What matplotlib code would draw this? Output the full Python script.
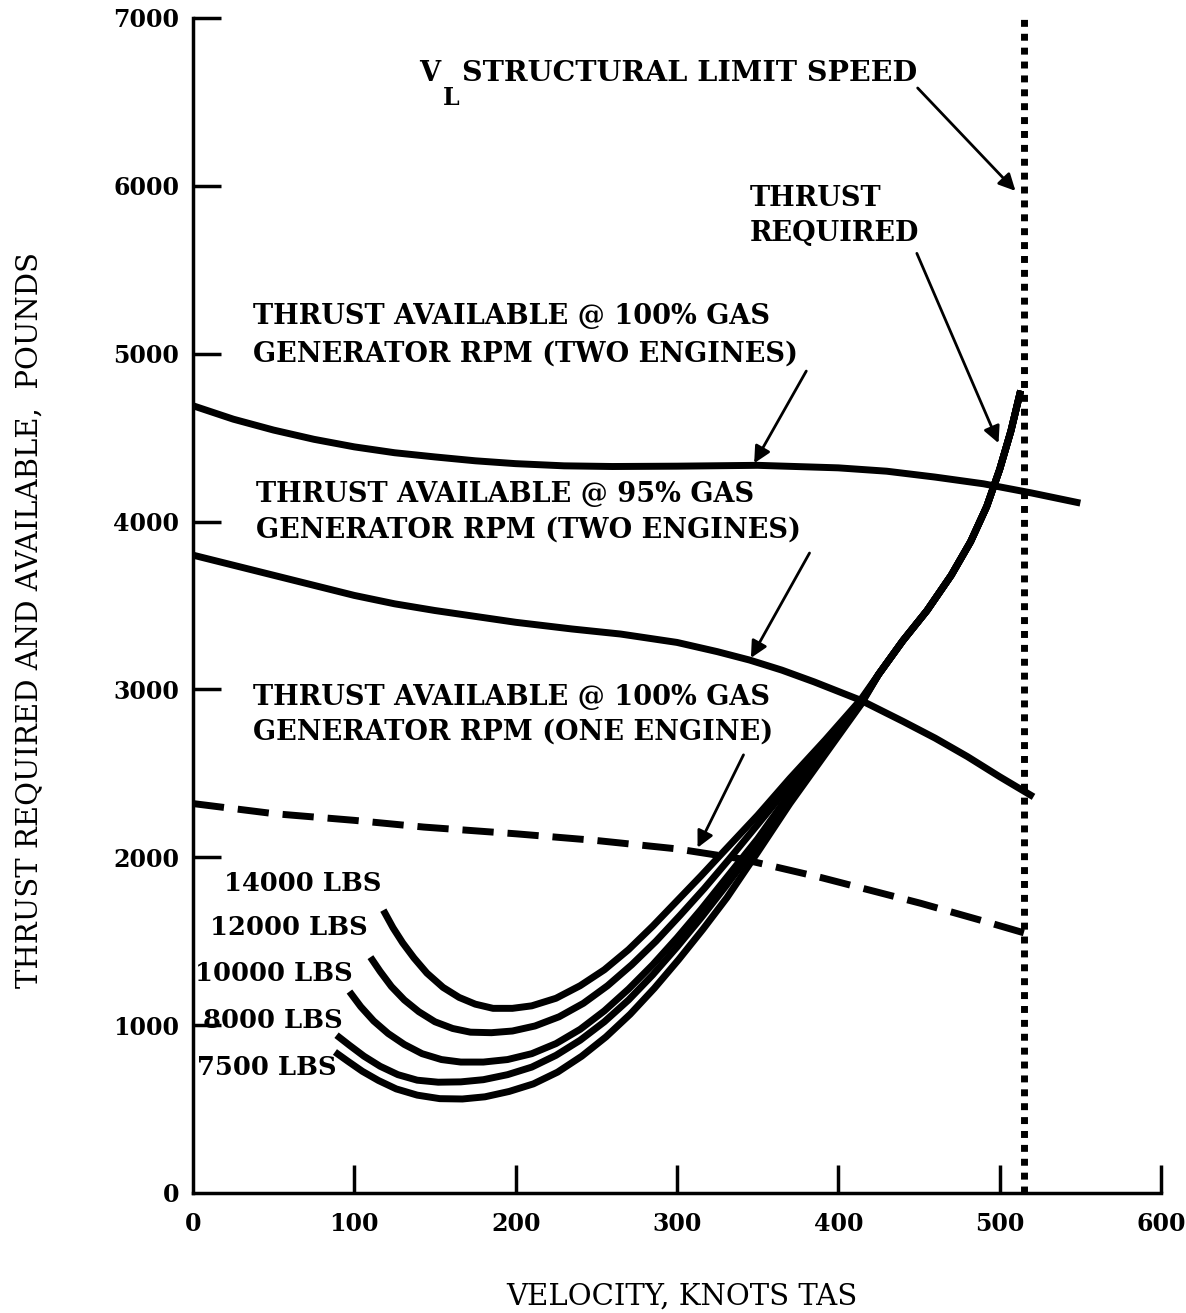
import numpy as np
import matplotlib
matplotlib.use("Agg")
import matplotlib.pyplot as plt

# Données (vitesse en noeuds TAS, poussée en livres)
v_100_two = [0, 25, 50, 75, 100, 125, 150, 175, 200, 230, 260, 300, 350, 400, 430, 460, 490, 520, 550]
t_100_two = [4690, 4610, 4545, 4490, 4445, 4410, 4385, 4362, 4345, 4332, 4328, 4330, 4335, 4320, 4300,
             4265, 4225, 4170, 4110]

v_95_two = [0, 25, 50, 75, 100, 125, 150, 175, 200, 235, 265, 300, 325, 345, 365, 385, 414, 440, 460,
            480, 500, 521]
t_95_two = [3800, 3740, 3680, 3620, 3560, 3510, 3470, 3435, 3400, 3360, 3330, 3280, 3225, 3175, 3115,
            3045, 2935, 2810, 2710, 2600, 2480, 2360]

v_100_one = [0, 50, 100, 143, 200, 250, 300, 340, 389, 451, 490, 515]
t_100_one = [2320, 2260, 2220, 2180, 2140, 2100, 2050, 1990, 1880, 1726, 1620, 1550]

# tronc commun des courbes de poussée requise (haute vitesse)
v_trunk = [425, 440, 455, 470, 482, 492, 500, 507, 513]
t_trunk = [3090, 3290, 3470, 3680, 3880, 4090, 4310, 4540, 4780]

weights = ["14000 LBS", "12000 LBS", "10000 LBS", "8000 LBS", "7500 LBS"]
v_req = [
    [118, 124, 130, 137, 145, 155, 165, 175, 186, 198, 210, 225, 240, 255, 270, 285, 300, 315, 330,
     350, 370, 392, 414],
    [110, 116, 123, 131, 140, 150, 161, 172, 185, 198, 212, 227, 242, 257, 272, 287, 302, 317, 332,
     350, 370, 392, 414],
    [97, 104, 112, 121, 131, 142, 154, 166, 180, 195, 210, 225, 240, 255, 270, 285, 300, 315, 330,
     350, 370, 392, 414],
    [89, 97, 106, 116, 127, 139, 152, 166, 180, 195, 210, 225, 240, 255, 270, 285, 300, 315, 330,
     350, 370, 392, 414],
    [88, 96, 105, 115, 126, 139, 153, 167, 181, 196, 211, 226, 241, 256, 271, 286, 301, 316, 331,
     350, 370, 392, 414],
]
t_req = [
    [1685, 1580, 1490, 1400, 1310, 1225, 1165, 1125, 1100, 1100, 1115, 1160, 1235, 1330, 1450, 1590,
     1740, 1890, 2045, 2250, 2470, 2700, 2940],
    [1405, 1320, 1230, 1150, 1080, 1020, 980, 958, 955, 965, 995, 1050, 1130, 1235, 1360, 1500, 1655,
     1815, 1985, 2195, 2430, 2680, 2930],
    [1200, 1110, 1025, 950, 885, 830, 795, 780, 780, 795, 830, 890, 975, 1085, 1215, 1360, 1520, 1690,
     1870, 2110, 2380, 2650, 2920],
    [940, 880, 815, 755, 705, 672, 660, 662, 675, 705, 750, 820, 910, 1020, 1150, 1300, 1465, 1640,
     1825, 2080, 2350, 2630, 2915],
    [840, 785, 725, 670, 620, 583, 562, 560, 573, 605, 650, 720, 815, 930, 1065, 1220, 1390, 1570,
     1760, 2030, 2320, 2615, 2910],
]
label_pos = [(117, 1845), (108, 1583), (99, 1310), (93, 1030), (89, 750)]

v_limit = 515

fig = plt.figure(figsize=(11.86, 13.13), dpi=100)
ax = fig.add_axes([0.1627, 0.0914, 0.8162, 0.8949])

font = {"family": "DejaVu Serif", "weight": "bold"}

ax.plot(v_100_two, t_100_two, color="black", lw=5, solid_capstyle="butt", solid_joinstyle="round")
ax.plot(v_95_two, t_95_two, color="black", lw=5, solid_capstyle="butt", solid_joinstyle="round")
ax.plot(v_100_one, t_100_one, color="black", lw=5, ls=(0, (4.5, 2)))

for vs, ts in zip(v_req, t_req):
    ax.plot(vs + v_trunk, ts + t_trunk, color="black", lw=5,
            solid_capstyle="butt", solid_joinstyle="round")

for lab, (x, y) in zip(weights, label_pos):
    ax.text(x, y, lab, ha="right", va="center", fontsize=18.5, **font)

# limite structurale
ax.plot([v_limit, v_limit], [0, 7000], color="black", lw=5, ls=(0, (1, 1)), clip_on=False)

# textes et flèches
arrow = dict(arrowstyle="-|>", color="black", lw=2, mutation_scale=25)
fs = 19.5
ax.text(147, 6667, "V", ha="center", va="center", fontsize=fs, **font)
ax.text(160, 6524, "L", ha="center", va="center", fontsize=17, **font)
ax.text(167, 6667, "STRUCTURAL LIMIT SPEED", ha="left", va="center", fontsize=20.5, **font)
ax.annotate("", xy=(511, 5958), xytext=(448, 6595), arrowprops=arrow)

ax.text(345, 5923, "THRUST", ha="left", va="center", fontsize=fs, **font)
ax.text(345, 5714, "REQUIRED", ha="left", va="center", fontsize=fs, **font)
ax.annotate("", xy=(500, 4452), xytext=(448, 5613), arrowprops=arrow)

ax.text(37, 5220, "THRUST AVAILABLE @ 100% GAS", ha="left", va="center", fontsize=fs, **font)
ax.text(37, 5000, "GENERATOR RPM (TWO ENGINES)", ha="left", va="center", fontsize=fs, **font)
ax.annotate("", xy=(347, 4333), xytext=(381, 4911), arrowprops=arrow)

ax.text(39, 4161, "THRUST AVAILABLE @ 95% GAS", ha="left", va="center", fontsize=fs, **font)
ax.text(39, 3952, "GENERATOR RPM (TWO ENGINES)", ha="left", va="center", fontsize=fs, **font)
ax.annotate("", xy=(345, 3173), xytext=(383, 3827), arrowprops=arrow)

ax.text(37, 2952, "THRUST AVAILABLE @ 100% GAS", ha="left", va="center", fontsize=fs, **font)
ax.text(37, 2744, "GENERATOR RPM (ONE ENGINE)", ha="left", va="center", fontsize=fs, **font)
ax.annotate("", xy=(312, 2042), xytext=(342, 2625), arrowprops=arrow)

# axes
ax.set_xlim(0, 600)
ax.set_ylim(0, 7000)
ax.set_xticks([0, 100, 200, 300, 400, 500, 600])
ax.set_yticks([0, 1000, 2000, 3000, 4000, 5000, 6000, 7000])
for s in ["top", "right"]:
    ax.spines[s].set_visible(False)
for s in ["left", "bottom"]:
    ax.spines[s].set_linewidth(2.5)
ax.tick_params(direction="in", length=20, width=2.5, labelsize=17, pad=10)
ax.tick_params(axis="x", pad=14)
ax.xaxis.get_major_ticks()[0].tick1line.set_visible(False)
ax.yaxis.get_major_ticks()[0].tick1line.set_visible(False)
for lab in ax.get_xticklabels() + ax.get_yticklabels():
    lab.set_family("DejaVu Serif")
    lab.set_weight("bold")

ax.set_xlabel("VELOCITY, KNOTS TAS", fontsize=21, family="DejaVu Serif")
ax.xaxis.set_label_coords(0.505, -0.076)
ax.set_ylabel("THRUST REQUIRED AND AVAILABLE,  POUNDS", fontsize=21, family="DejaVu Serif")
ax.yaxis.set_label_coords(-0.155, 0.488)

fig.savefig("out.png", dpi=100, facecolor="white")
